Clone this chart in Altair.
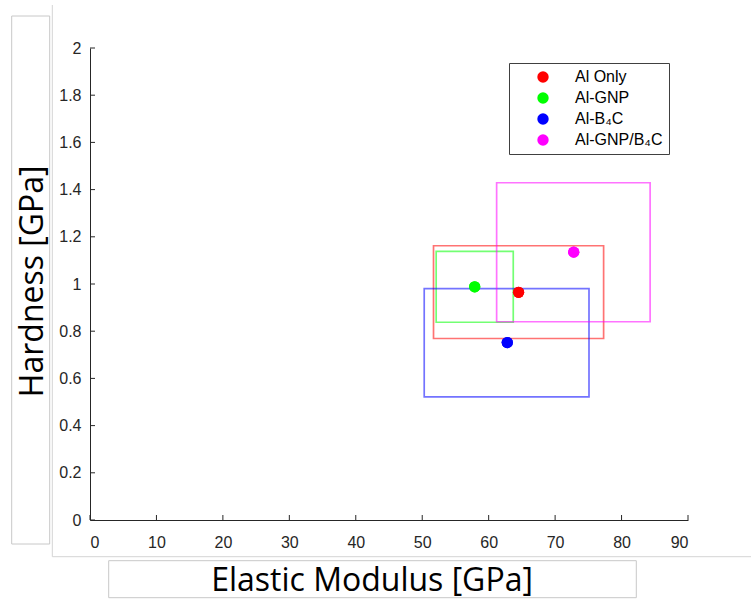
import altair as alt
import pandas as pd

# ---- data ----
materials = ["Al Only", "Al-GNP", "Al-B₄C", "Al-GNP/B₄C"]
point_colors = ["#ff0000", "#00ff00", "#0000ff", "#ff00ff"]
modulus = [64.5, 57.9, 62.8, 72.8]
hardness = [0.965, 0.988, 0.752, 1.135]
modulus_low = [51.7, 52.1, 50.3, 61.2]
modulus_high = [77.3, 63.7, 75.1, 84.3]
hardness_low = [0.769, 0.838, 0.522, 0.840]
hardness_high = [1.162, 1.138, 0.980, 1.429]

x_ticks = [0, 10, 20, 30, 40, 50, 60, 70, 80, 90]
y_ticks = [0, 0.2, 0.4, 0.6, 0.8, 1.0, 1.2, 1.4, 1.6, 1.8, 2.0]

W, H = 598, 472
AXIS_COLOR = "#262626"

df = pd.DataFrame({
    "material": materials,
    "box_material": materials,
    "modulus": modulus,
    "hardness": hardness,
    "mod_lo": modulus_low,
    "mod_hi": modulus_high,
    "hard_lo": hardness_low,
    "hard_hi": hardness_high,
})
xt = pd.DataFrame({"v": x_ticks})
yt = pd.DataFrame({"v": y_ticks})

xscale = alt.Scale(domain=[0, 90], nice=False, zero=False)
yscale = alt.Scale(domain=[0, 2], nice=False, zero=False)

xaxis = alt.Axis(
    values=x_ticks, format="d", grid=False, ticks=False, tickSize=0,
    domainColor=AXIS_COLOR, domainWidth=1,
    labelFont="Liberation Sans", labelFontSize=16, labelColor=AXIS_COLOR,
    labelPadding=14,
    title="Elastic Modulus [GPa]", titleFont="Open Sans", titleFontSize=32,
    titleFontWeight="normal", titleColor="black",
    titleX=281.5, titleY=70.5, titleBaseline="alphabetic", titleAlign="center",
)
yaxis = alt.Axis(
    values=y_ticks, format="~g", grid=False, ticks=False, tickSize=0,
    domainColor=AXIS_COLOR, domainWidth=1,
    labelFont="Liberation Sans", labelFontSize=16, labelColor=AXIS_COLOR,
    labelPadding=9,
    title="Hardness [GPa]", titleFont="Open Sans", titleFontSize=32,
    titleFontWeight="normal", titleColor="black",
    titleX=-47.7, titleY=232.8, titleBaseline="alphabetic", titleAlign="center",
    titleAngle=270,
)

one = alt.Data(values=[{"k": 1}])

# decorative frames (figure artefacts around the titles)
def box(x0, x1, y0, y1, color="#c8c8c8"):
    return alt.Chart(one).mark_rect(filled=False, stroke=color, strokeWidth=1).encode(
        x=alt.value(x0), x2=alt.value(x1), y=alt.value(y0), y2=alt.value(y1)
    )

def line(x0, x1, y0, y1, color="#d4d4d4"):
    return alt.Chart(one).mark_rule(color=color, strokeWidth=1).encode(
        x=alt.value(x0), x2=alt.value(x1), y=alt.value(y0), y2=alt.value(y1)
    )

deco = [
    box(-78.3, -40.3, -32, 496),        # y-title box
    box(18.7, 546.3, 512.7, 549.7),     # x-title box
    line(-37.7, -37.7, -43, 508.7),     # vertical frame line
    line(-37.7, 661, 508.7, 508.7),     # horizontal frame line
]

points = alt.Chart(df).mark_circle(size=127, opacity=1).encode(
    x=alt.X("modulus:Q", scale=xscale, axis=xaxis),
    y=alt.Y("hardness:Q", scale=yscale, axis=yaxis),
    color=alt.Color(
        "material:N",
        scale=alt.Scale(domain=materials, range=point_colors),
        sort=materials,
        legend=alt.Legend(
            title=None, orient="none", legendX=419, legendY=15,
            strokeColor="#404040", fillColor="white", padding=6,
            symbolOffset=20, labelOffset=24, symbolType="circle", symbolSize=130,
            symbolStrokeWidth=0, labelFont="Liberation Sans", labelFontSize=16,
            labelColor="black", rowPadding=5, labelLimit=0,
        ),
    ),
)

rects = alt.Chart(df).mark_rect(filled=False, strokeWidth=1.7, strokeOpacity=0.55).encode(
    x=alt.X("mod_lo:Q", scale=xscale, axis=xaxis),
    x2="mod_hi:Q",
    y=alt.Y("hard_lo:Q", scale=yscale, axis=yaxis),
    y2="hard_hi:Q",
    stroke=alt.Stroke("box_material:N", scale=alt.Scale(domain=materials, range=point_colors), legend=None),
)

xticks = alt.Chart(xt).mark_rule(color=AXIS_COLOR, strokeWidth=1).encode(
    x=alt.X("v:Q", scale=xscale, axis=xaxis),
    y=alt.value(H), y2=alt.value(H - 5),
)
yticks = alt.Chart(yt).mark_rule(color=AXIS_COLOR, strokeWidth=1).encode(
    y=alt.Y("v:Q", scale=yscale, axis=yaxis),
    x=alt.value(0), x2=alt.value(5),
)

# points layer first (carries axes + legend), drawn again on top of the boxes
chart = alt.layer(points, rects, xticks, yticks, *deco, points).properties(
    width=W, height=H,
    autosize=alt.AutoSizeParams(type="none"),
    padding={"left": 90, "top": 48, "right": 63, "bottom": 79},
    background="white",
).configure_view(strokeWidth=0)

chart.save("out.html", embed_options={"renderer": "svg", "actions": False})
